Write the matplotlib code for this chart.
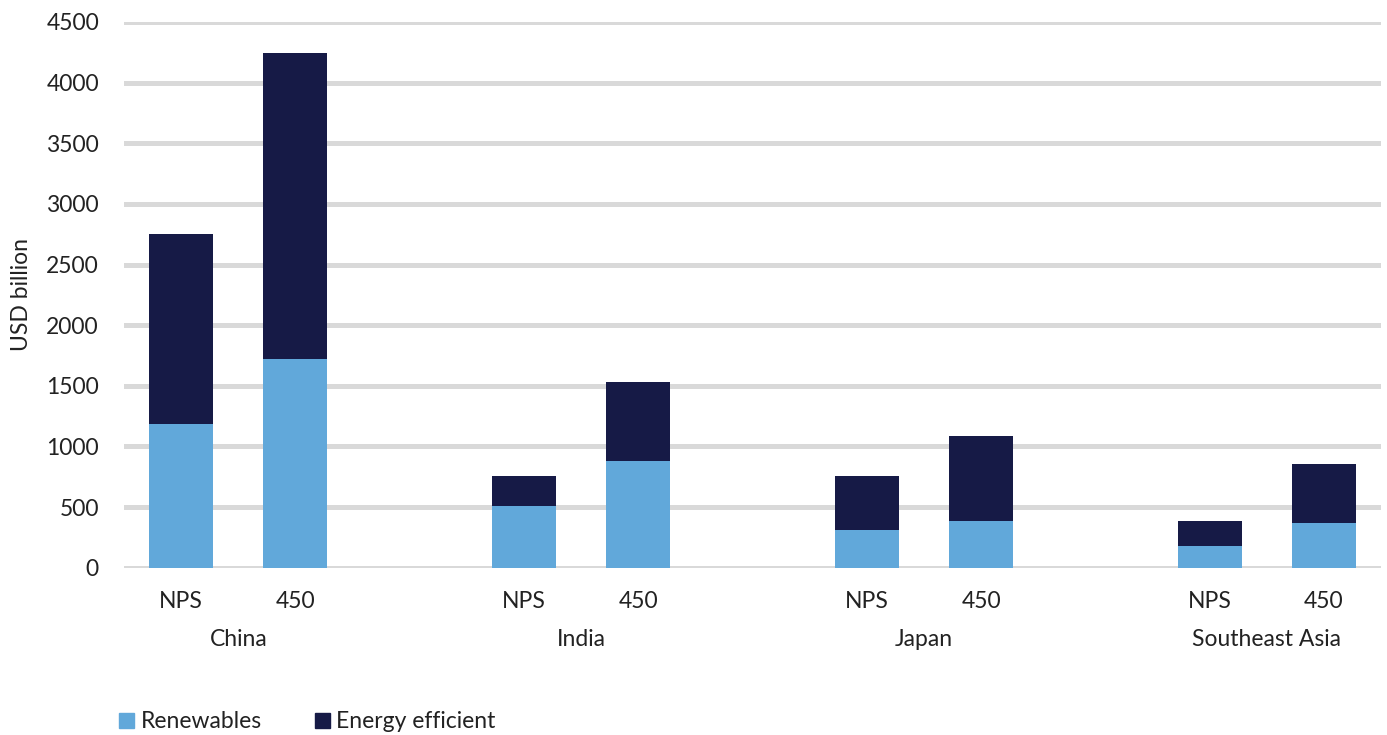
import matplotlib
matplotlib.use("Agg")
import matplotlib.pyplot as plt
from matplotlib.patches import Patch
import matplotlib.transforms as mtransforms

# Data (USD billion)
regions = ["China", "India", "Japan", "Southeast Asia"]
scenarios = ["NPS", "450"]
renewables = [1185, 1720, 505, 880, 315, 385, 175, 365]
energy_eff_total = [2750, 4245, 758, 1533, 758, 1088, 387, 853]
energy_eff = [t - r for t, r in zip(energy_eff_total, renewables)]

c_renew = "#61A8DA"
c_eff = "#161A46"
c_grid = "#D9D9D9"
c_text = "#222222"
fs = 16.5

plt.rcParams['font.family'] = ['Lato', 'DejaVu Sans']

fig = plt.figure(figsize=(13.87, 7.35), dpi=100)
ax = fig.add_axes([0.0894, 0.2276, 0.9063, 0.7425])

# posisi batang: 2 per region, 1 slot kosong di antara region
x = []
for i in range(len(regions)):
    x += [i * 3, i * 3 + 1]

w = 0.56
ax.bar(x, renewables, width=w, color=c_renew, zorder=3)
ax.bar(x, energy_eff, width=w, bottom=renewables, color=c_eff, zorder=3)

ax.set_xlim(-0.5, 10.5)
ax.set_ylim(0, 4500)
ax.set_yticks(range(0, 4501, 500))
ax.yaxis.grid(True, color=c_grid, linewidth=3.6, zorder=0)
ax.set_axisbelow(True)
for s in ax.spines.values():
    s.set_visible(False)
ax.axhline(0, color=c_grid, linewidth=3.6, zorder=1)

ax.set_xticks(x)
ax.set_xticklabels(scenarios * len(regions))
ax.tick_params(axis='both', length=0, labelsize=fs, colors=c_text)
ax.tick_params(axis='x', pad=17)
ax.tick_params(axis='y', pad=18)

ax.set_ylabel("USD billion", fontsize=fs, color=c_text, labelpad=10)

trans = mtransforms.blended_transform_factory(ax.transData, fig.transFigure)
for i, r in enumerate(regions):
    ax.text(i * 3 + 0.5, 1 - 640 / 735, r, transform=trans, ha='center', va='center',
            fontsize=fs, color=c_text)

handles = [Patch(color=c_renew, label="Renewables"),
           Patch(color=c_eff, label="Energy efficient")]
fig.legend(handles=handles, loc='center left', bbox_to_anchor=(0.071, 1 - 722 / 735),
           ncol=2, frameon=False, fontsize=fs, handlelength=0.65, handleheight=0.65,
           handletextpad=0.3, columnspacing=2.3, labelcolor=c_text)

fig.savefig("out.png", dpi=100, facecolor='white')
